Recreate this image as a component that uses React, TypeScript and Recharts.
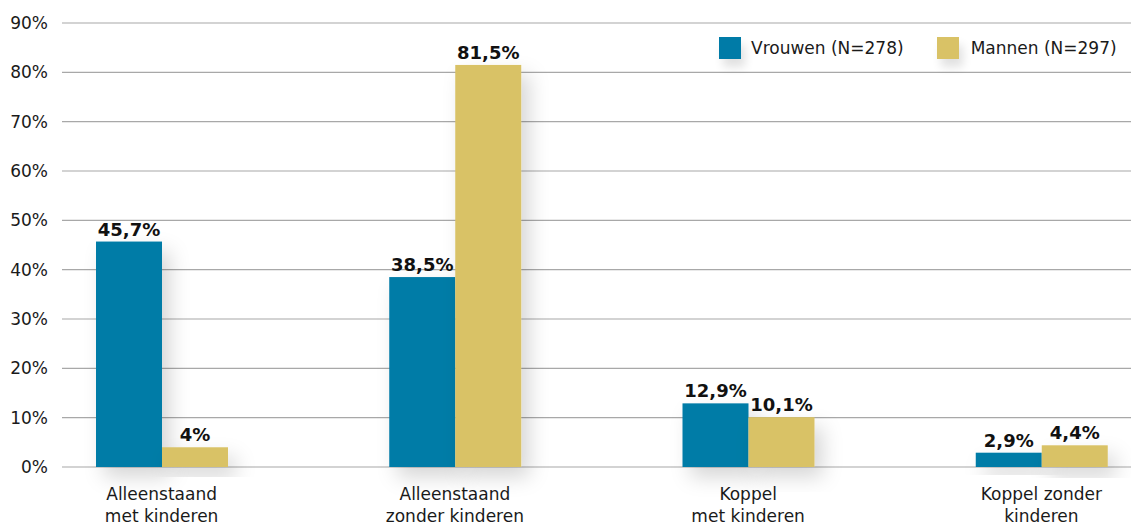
import React from 'react';
import { BarChart, Bar, XAxis, YAxis, CartesianGrid, LabelList } from 'recharts';

// household type, share per gender (%)
const categories = ['Alleenstaand\nmet kinderen', 'Alleenstaand\nzonder kinderen', 'Koppel\nmet kinderen', 'Koppel zonder\nkinderen'];
const vrouwen = [45.7, 38.5, 12.9, 2.9];
const mannen = [4, 81.5, 10.1, 4.4];
const yTicks = [0, 10, 20, 30, 40, 50, 60, 70, 80, 90];

const BLUE = '#007ba7';
const GOLD = '#d9c266';
const FONT = '"DejaVu Sans", sans-serif';

const data = categories.map((name, i) => ({ name, Vrouwen: vrouwen[i], Mannen: mannen[i] }));

const fmt = (v: any) => `${String(v).replace('.', ',')}%`;

const ShadowBar = (props: any) => {
  const { x, y, width, height, fill } = props;
  if (!height || height <= 0) return null;
  return <rect x={x} y={y} width={width} height={height} fill={fill} filter="url(#barShadow)" />;
};

const CatTick = (props: any) => {
  const { x, y, payload } = props;
  const lines = String(payload.value).split('\n');
  return (
    <text x={x} y={y} textAnchor="middle" fill="#1a1a1a" fontSize={17} fontFamily={FONT}>
      {lines.map((l, i) => (
        <tspan key={i} x={x} dy={i === 0 ? 25 : 22}>{l}</tspan>
      ))}
    </text>
  );
};

const LegendBox = () => (
  <div style={{ position: 'absolute', top: 37, left: 719, display: 'flex', alignItems: 'center', fontFamily: FONT, fontSize: 17, color: '#1a1a1a', whiteSpace: 'nowrap' }}>
    <span style={{ width: 22, height: 22, background: BLUE, display: 'inline-block', marginRight: 10, boxShadow: '4px 8px 10px rgba(0,0,0,0.12)' }} />
    <span style={{ marginRight: 33 }}>Vrouwen (N=278)</span>
    <span style={{ width: 22, height: 22, background: GOLD, display: 'inline-block', marginRight: 12, boxShadow: '4px 8px 10px rgba(0,0,0,0.12)' }} />
    <span>Mannen (N=297)</span>
  </div>
);

export default function App() {
  return (
    <div style={{ position: 'fixed', top: 0, left: 0, width: 1131, height: 525, background: '#fff', overflow: 'hidden' }}>
      <BarChart
        width={1131}
        height={525}
        data={data}
        margin={{ top: 23, right: 0, left: 0, bottom: 0 }}
        barGap={0}
        barSize={66}
      >
        <defs>
          <filter id="barShadow" x="-50%" y="-50%" width="200%" height="200%">
            <feDropShadow dx="8" dy="10" stdDeviation="10" floodColor="#000" floodOpacity="0.16" />
          </filter>
        </defs>
        <CartesianGrid vertical={false} stroke="#a8a8a8" strokeWidth={1.2} />
        <XAxis
          dataKey="name"
          axisLine={false}
          tickLine={false}
          height={58}
          interval={0}
          padding={{ left: -47, right: -57 }}
          tick={<CatTick />}
        />
        <YAxis
          width={62}
          domain={[0, 90]}
          ticks={yTicks}
          axisLine={false}
          tickLine={false}
          tickMargin={8}
          tickFormatter={(v) => `${v}%`}
          tick={{ fill: '#1a1a1a', fontSize: 17, fontFamily: FONT }}
        />
        <Bar dataKey="Vrouwen" fill={BLUE} shape={<ShadowBar />} isAnimationActive={false}>
          <LabelList dataKey="Vrouwen" position="top" offset={6} formatter={fmt} fill="#111" fontSize={18} fontWeight={700} fontFamily={FONT} />
        </Bar>
        <Bar dataKey="Mannen" fill={GOLD} shape={<ShadowBar />} isAnimationActive={false}>
          <LabelList dataKey="Mannen" position="top" offset={6} formatter={fmt} fill="#111" fontSize={18} fontWeight={700} fontFamily={FONT} />
        </Bar>
      </BarChart>
      <LegendBox />
    </div>
  );
}
